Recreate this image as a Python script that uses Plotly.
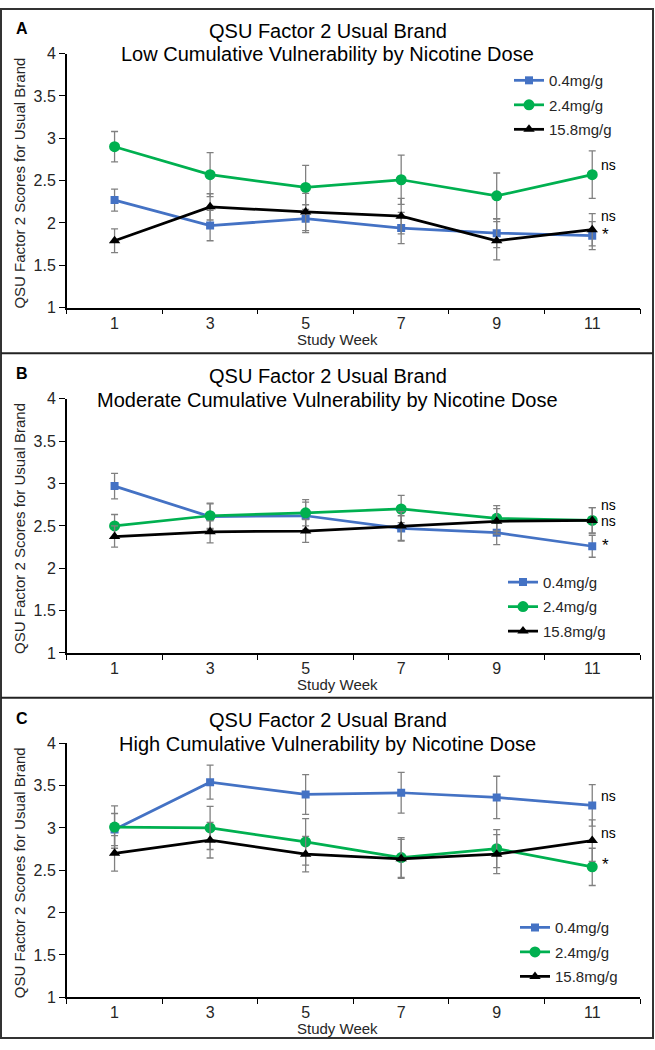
import plotly.graph_objects as go

# ---------------- data ----------------
weeks = ["1", "3", "5", "7", "9", "11"]
doses = ["0.4mg/g", "2.4mg/g", "15.8mg/g"]

panel_letters = ["A", "B", "C"]
panel_line1 = "QSU Factor 2 Usual Brand"
panel_line2 = [
    "Low Cumulative Vulnerability by Nicotine Dose",
    "Moderate Cumulative Vulnerability by Nicotine Dose",
    "High Cumulative Vulnerability by Nicotine Dose",
]

# Panel A - Low cumulative vulnerability
low_04 = [2.27, 1.97, 2.05, 1.94, 1.88, 1.85]
low_04_err = [0.13, 0.18, 0.165, 0.185, 0.17, 0.165]
low_24 = [2.90, 2.57, 2.42, 2.51, 2.32, 2.57]
low_24_err = [0.18, 0.26, 0.26, 0.29, 0.27, 0.28]
low_158 = [1.79, 2.19, 2.13, 2.08, 1.79, 1.92]
low_158_err = [0.14, 0.155, 0.22, 0.21, 0.225, 0.19]

# Panel B - Moderate cumulative vulnerability
mod_04 = [2.97, 2.61, 2.62, 2.47, 2.42, 2.26]
mod_04_err = [0.15, 0.15, 0.16, 0.15, 0.14, 0.13]
mod_24 = [2.50, 2.62, 2.655, 2.70, 2.59, 2.565]
mod_24_err = [0.135, 0.15, 0.155, 0.16, 0.15, 0.15]
mod_158 = [2.375, 2.43, 2.44, 2.50, 2.555, 2.565]
mod_158_err = [0.125, 0.13, 0.135, 0.17, 0.15, 0.15]

# Panel C - High cumulative vulnerability
high_04 = [2.98, 3.54, 3.395, 3.415, 3.36, 3.265]
high_04_err = [0.19, 0.20, 0.235, 0.24, 0.25, 0.245]
high_24 = [3.01, 3.00, 2.835, 2.65, 2.755, 2.54]
high_24_err = [0.25, 0.255, 0.275, 0.235, 0.225, 0.22]
high_158 = [2.70, 2.855, 2.69, 2.635, 2.69, 2.85]
high_158_err = [0.21, 0.21, 0.21, 0.23, 0.23, 0.245]

# significance labels at week 11 (label, y value)
sig_low = [("ns", 2.68), ("ns", 2.08), ("*", 1.86)]
sig_mod = [("ns", 2.75), ("ns", 2.56), ("*", 2.27)]
sig_high = [("ns", 3.38), ("ns", 2.94), ("*", 2.57)]

y_ticks = [1, 1.5, 2, 2.5, 3, 3.5, 4]

# ---------------- style ----------------
W, H = 655, 1050
FONT = "Liberation Sans, Arial, sans-serif"
colors = ["#4472C4", "#00B050", "#000000"]
symbols = ["square", "circle", "triangle-up"]
msizes = [8, 11, 10]
ERR_COLOR = "#808080"
TXT = "#262626"

panels = [
    ([low_04, low_24, low_158], [low_04_err, low_24_err, low_158_err], sig_low),
    ([mod_04, mod_24, mod_158], [mod_04_err, mod_24_err, mod_158_err], sig_mod),
    ([high_04, high_24, high_158], [high_04_err, high_24_err, high_158_err], sig_high),
]

panel_top = [0, 351, 701]
plot_top_off, plot_bot_off = 46.3, 304.6
x_left, x_right = 66.8, 640.0
legend_pos = [(509, 57), (503, 567), (515, 918)]


def py(px):
    return 1 - px / H


fig = go.Figure()
annotations = []
layout_axes = {}

for i, (series, errs, sigs) in enumerate(panels):
    n = "" if i == 0 else str(i + 1)
    xa, ya = "x" + n, "y" + n
    leg = "legend" + n
    for k in range(3):
        fig.add_trace(go.Scatter(
            x=weeks, y=series[k], name=doses[k],
            mode="lines+markers",
            line=dict(color=colors[k], width=2.75),
            marker=dict(symbol=symbols[k], size=msizes[k], color=colors[k]),
            error_y=dict(type="data", array=errs[k], visible=True,
                         color=ERR_COLOR, thickness=1.3, width=3.5),
            xaxis=xa, yaxis=ya, legend=leg, legendgroup=f"{i}-{k}",
            showlegend=True,
        ))
    top = panel_top[i]
    dom_y = [py(top + plot_bot_off), py(top + plot_top_off)]
    layout_axes["xaxis" + n] = dict(
        type="category", domain=[x_left / W, x_right / W], anchor=ya,
        range=[-0.5, 5.5], tickson="boundaries", ticks="outside", ticklen=5,
        tickcolor="black", tickwidth=1.3, showline=True, linecolor="black",
        linewidth=1.5, showgrid=False, zeroline=False,
        tickfont=dict(family=FONT, size=16, color=TXT),
    )
    layout_axes["yaxis" + n] = dict(
        domain=dom_y, anchor=xa, range=[1, 4], tickvals=y_ticks,
        ticks="outside", ticklen=6, tickcolor="black", tickwidth=1.3,
        showline=True, linecolor="black", linewidth=1.5, showgrid=False,
        zeroline=False, tickfont=dict(family=FONT, size=16, color=TXT),
    )
    lx, ly = legend_pos[i]
    layout_axes[leg] = dict(
        x=lx / W, y=py(ly), xanchor="left", yanchor="top",
        bgcolor="rgba(0,0,0,0)", borderwidth=0, tracegroupgap=2,
        traceorder="grouped", font=dict(family=FONT, size=15, color=TXT),
    )
    # titles
    annotations.append(dict(text=panel_line1, x=0.5, y=py(top + 23), xref="paper",
                            yref="paper", showarrow=False, xanchor="center",
                            yanchor="middle", font=dict(family=FONT, size=20, color="black")))
    annotations.append(dict(text=panel_line2[i], x=0.5, y=py(top + 47), xref="paper",
                            yref="paper", showarrow=False, xanchor="center",
                            yanchor="middle", font=dict(family=FONT, size=20, color="black")))
    annotations.append(dict(text="<b>" + panel_letters[i] + "</b>", x=22 / W, y=py(top + 21),
                            xref="paper", yref="paper", showarrow=False,
                            xanchor="center", yanchor="middle",
                            font=dict(family=FONT, size=16, color="black")))
    annotations.append(dict(text="QSU Factor 2 Scores for Usual Brand", textangle=-90,
                            x=19.5 / W, y=py(top + 178), xref="paper", yref="paper",
                            showarrow=False, xanchor="center", yanchor="middle",
                            font=dict(family=FONT, size=15, color=TXT)))
    annotations.append(dict(text="Study Week", x=337 / W, y=py(top + 336.5),
                            xref="paper", yref="paper", showarrow=False,
                            xanchor="center", yanchor="middle",
                            font=dict(family=FONT, size=15, color=TXT)))
    for lab, yv in sigs:
        annotations.append(dict(text=lab, x=len(weeks) - 1, y=yv, xref=xa, yref=ya,
                                showarrow=False, xanchor="left", yanchor="middle",
                                xshift=7 if lab == "ns" else 8,
                                font=dict(family=FONT, size=14 if lab == "ns" else 17,
                                          color="black")))

shapes = [
    dict(type="rect", xref="paper", yref="paper", x0=1 / W, x1=653 / W,
         y0=py(1047), y1=py(1), line=dict(color="#333333", width=2)),
    dict(type="line", xref="paper", yref="paper", x0=1 / W, x1=653 / W,
         y0=py(351), y1=py(351), line=dict(color="#222222", width=2)),
    dict(type="line", xref="paper", yref="paper", x0=1 / W, x1=653 / W,
         y0=py(701), y1=py(701), line=dict(color="#222222", width=2)),
]

fig.update_layout(
    width=W, height=H, autosize=False,
    margin=dict(l=0, r=0, t=0, b=0),
    paper_bgcolor="white", plot_bgcolor="white",
    font=dict(family=FONT, color=TXT),
    annotations=annotations, shapes=shapes,
    **layout_axes,
)

fig.write_html("out.html", config={"displayModeBar": False},
               post_script="document.body.style.margin='0px';document.body.style.padding='0px';")
